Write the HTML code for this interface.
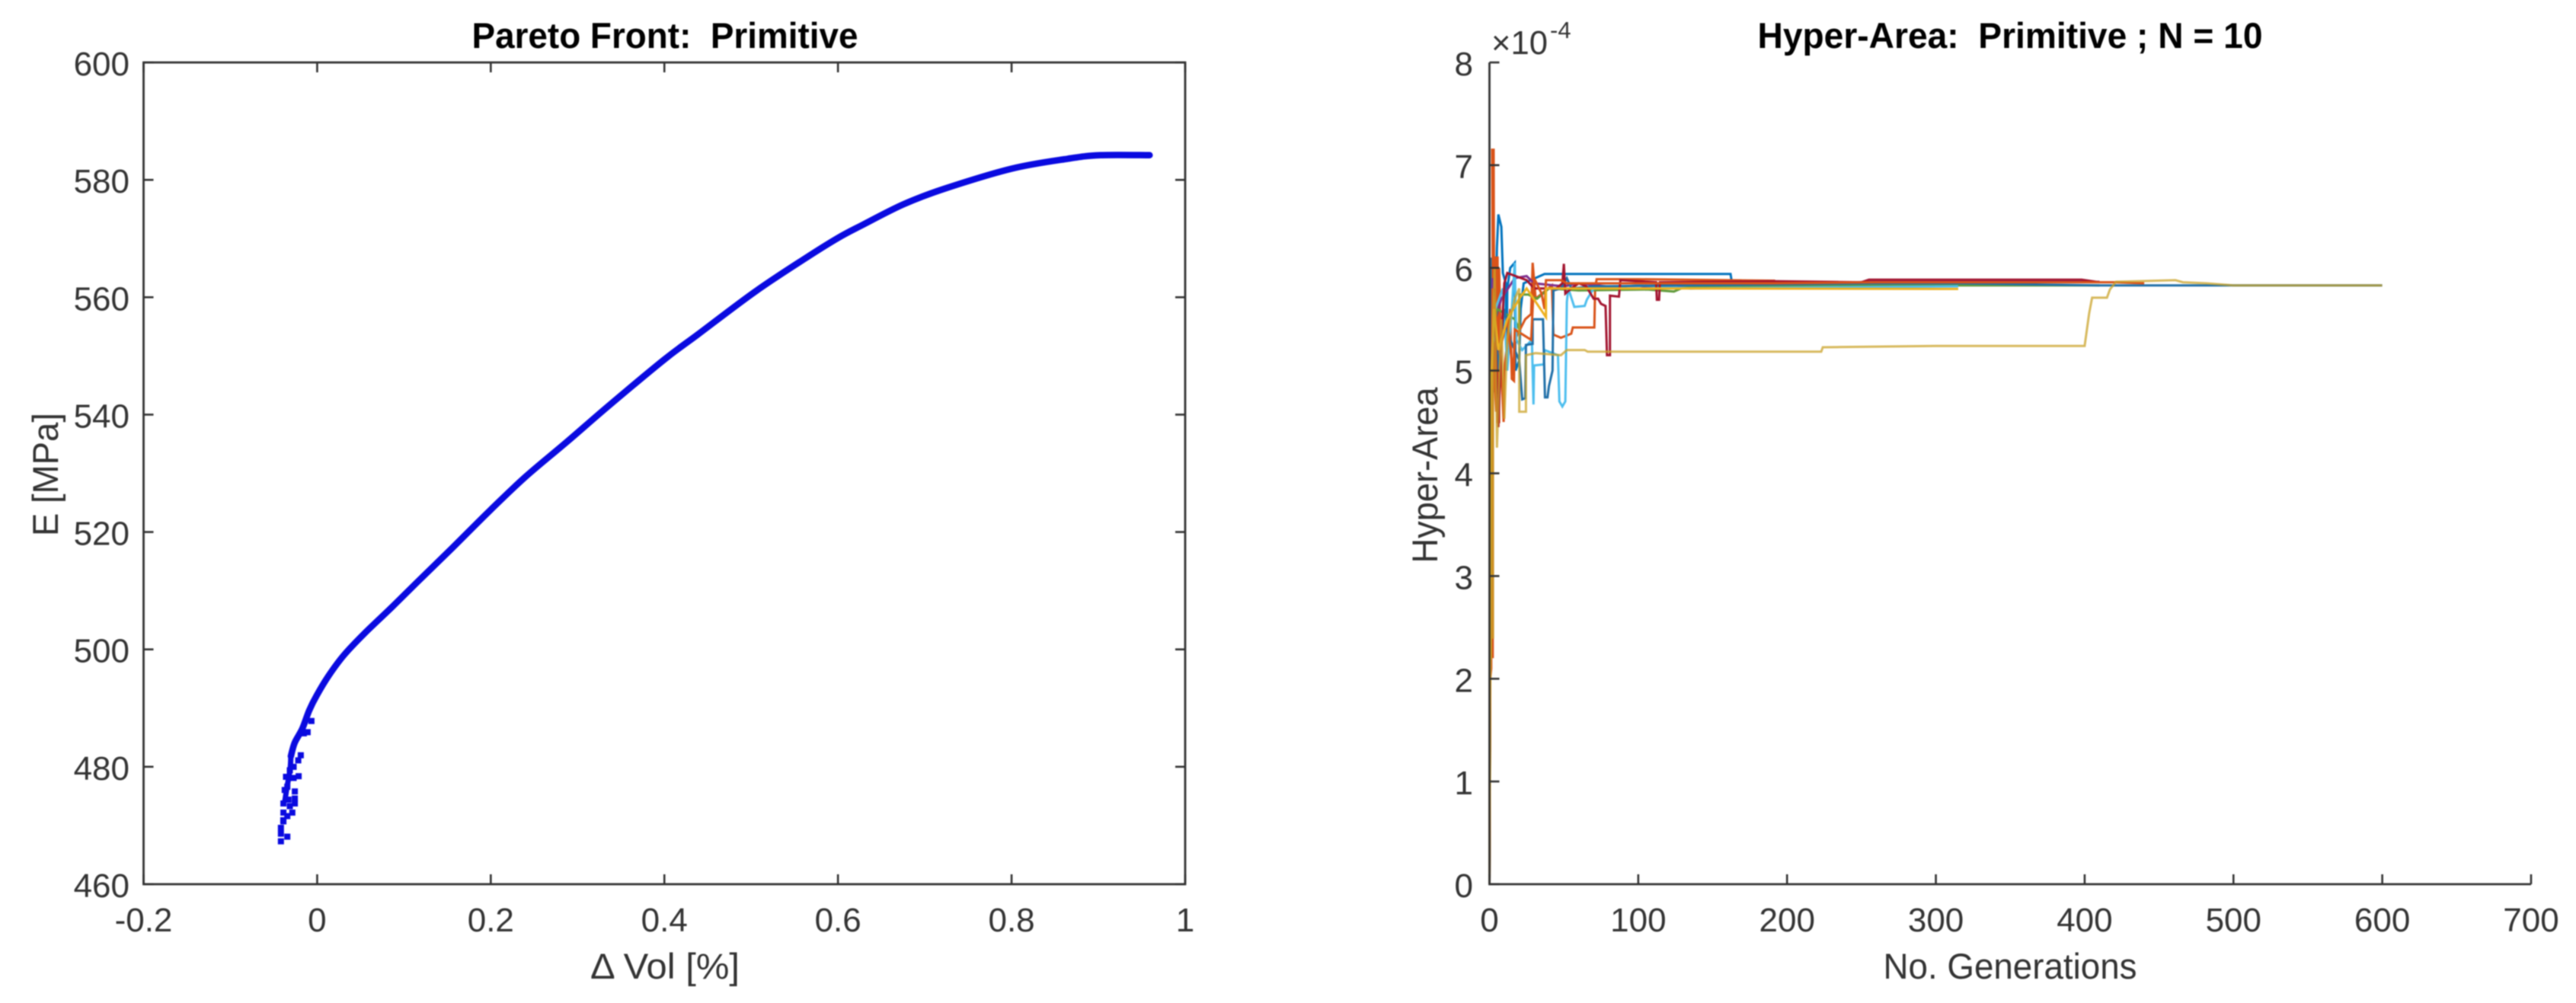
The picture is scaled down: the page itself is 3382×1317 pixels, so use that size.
<!DOCTYPE html>
<html lang="en">
<head>
<meta charset="utf-8">
<title>Pareto Front and Hyper-Area: Primitive</title>
<style>
html,body{margin:0;padding:0;background:#fff;}
body{width:3382px;height:1317px;overflow:hidden;}
svg{display:block;filter:blur(0.7px);}
text{font-family:"Liberation Sans",Arial,sans-serif;white-space:pre;}
.tick{font-size:44px;fill:#333;}
.label{font-size:47px;fill:#333;}
.title{font-size:47px;font-weight:bold;fill:#000;}
</style>
</head>
<body>
<svg id="chart" xmlns="http://www.w3.org/2000/svg" width="3382" height="1317" viewBox="0 0 3382 1317">
<rect x="0" y="0" width="3382" height="1317" fill="#fff"/>
<g id="pareto">
<text class="title" x="873" y="63" text-anchor="middle" textLength="507" lengthAdjust="spacingAndGlyphs">Pareto Front:  Primitive</text>
<text class="label" transform="translate(76,623) rotate(-90)" text-anchor="middle" textLength="162" lengthAdjust="spacingAndGlyphs">E [MPa]</text>
<text class="label" x="873" y="1285" text-anchor="middle" textLength="196" lengthAdjust="spacingAndGlyphs">Δ Vol [%]</text>
</g>
<g id="hyper">
<text class="title" x="2639" y="63" text-anchor="middle" textLength="663" lengthAdjust="spacingAndGlyphs">Hyper-Area:  Primitive ; N = 10</text>
<text class="label" transform="translate(1887,624) rotate(-90)" text-anchor="middle" textLength="231" lengthAdjust="spacingAndGlyphs">Hyper-Area</text>
<text class="label" x="2639" y="1285" text-anchor="middle" textLength="333" lengthAdjust="spacingAndGlyphs">No. Generations</text>
<text class="tick" x="1958" y="71" textLength="74" lengthAdjust="spacingAndGlyphs">×10</text>
<text class="tick" x="2035" y="50" style="font-size:31px">-4</text>
</g>
</svg>
<script>
// ---- Pareto front data ----
const paretoVol = [0.959,0.9025,0.865,0.8,0.723,0.675,0.628,0.6,0.562,0.505,0.439,0.4,0.335,0.288,0.24,0.2,0.155,0.117,0.0875,0.055,0.0312,0.0136,-0.0004,-0.0092,-0.0171,-0.0259,-0.0303];
const paretoE = [584.2,584.2,583.6,581.9,578.5,575.8,572.3,570.1,566.6,561,553.7,549.4,541.4,535.4,529.4,523.8,517.2,511.7,507.4,502.8,499.1,495.6,492.2,489.6,486.5,484.1,481.8];
const lowerVol = [-0.0303,-0.0312,-0.0347,-0.0374];
const lowerE = [481.8,479.6,476.6,474];
const scatterVol = [-0.0189,-0.0218,-0.0271,-0.0315,-0.0213,-0.0271,-0.0359,-0.0257,-0.0344,-0.0374,-0.0257,-0.0257,-0.033,-0.0389,-0.0315,-0.0286,-0.0344,-0.0389,-0.0389,-0.0418,-0.0344,-0.0418,-0.0418,-0.0391,-0.0066,-0.011,-0.0154];
const scatterE = [481.97,481.1,480,479.4,478.4,478.1,478.3,475.8,476.6,476.05,474.6,473.75,474.4,473.75,473.3,472.2,471.6,472.2,470.7,469.6,468.1,468.6,467.3,470.9,487.8,485.9,485.7];
const paretoXTicks = [-0.2,0,0.2,0.4,0.6,0.8,1];
const paretoYTicks = [460,480,500,520,540,560,580,600];

// ---- Hyper-area data (values in units of 1e-4) ----
const run1Gen = [0,0.6,1.5,1.5,2.5,2.5,3.5,3.5,5,6,8,9,11,11.5,12,14,17,17.5,20,21,23,37,162,163,200,315];
const run1Area = [0,5,6.1,4.8,4.8,6.1,6.1,5.0,6.2,6.52,6.4,5.95,5.85,5.0,5.8,6.0,6.05,5.0,5.1,5.6,5.85,5.94,5.94,5.85,5.84,5.84];
const run2Gen = [0,0.5,1.2,1.2,2.2,2.2,1.8,2.8,3.2,4.5,4.5,5.5,5.5,6.5,6.5,8,9.5,10,14,15,16.5,17,24,28,29,31,42,43,48,55,56,70.5,71,72,100,192];
const run2Area = [0,2,2.1,5,2.2,6,7.15,7.15,5,4.6,6.1,6.1,4.5,4.5,6,5,4.5,5,5.6,4.92,4.9,5.3,5.5,5.55,6.05,5.7,5.83,5.35,5.32,5.36,5.42,5.42,5.8,5.89,5.89,5.875];
const run4Gen = [0,1,2,4,8,17,25,30,50,60,98,120,135,255,410];
const run4Area = [0,5,5.9,5.5,5.7,5.9,5.92,5.85,5.82,5.85,5.79,5.85,5.8,5.865,5.865];
const run5Gen = [0,1.5,5,17,20,20,26,32,40,60,106,124,132,250,410];
const run5Area = [0,5.2,5.6,5.5,5.4,5.74,5.74,5.7,5.8,5.78,5.79,5.77,5.82,5.83,5.83];
const run6Gen = [0,1,4,9,12,15,17,18,22,28.5,29.6,30,36.5,37,46,47,49,51,52,53,57,64,65.4,70,100,135,315];
const run6Area = [0,5,5.6,5.8,5.0,5.6,6.05,5.3,5.2,5.3,4.67,5.05,5.06,5.2,5.15,4.7,4.65,4.7,5.67,5.8,5.62,5.63,5.69,5.8,5.83,5.8,5.82];
const run8Gen = [0,1,2.5,6,10,14,20,22,24,24.5,29,29,36,37.3,39,40,42.4,43,48,52,55,70,130,255,315,410,600];
const run8Area = [0,5.5,5.8,5.0,5.6,5.3,5.1,4.72,4.73,5.25,5.26,5.5,5.5,4.74,4.74,4.85,5.0,5.78,5.8,5.9,5.8,5.82,5.83,5.85,5.85,5.83,5.83];
const run7Gen = [0,1,3,6,8,10,12,25,30,45,49,50,51,55,60,65,70,73,75,78,79,81,81,87,88,112,112.5,114,114.5,192,250,255,398,410];
const run7Area = [0,4.4,5.8,4.45,5.3,5.85,5.95,5.88,5.8,5.8,5.85,6.04,5.75,5.8,5.85,5.82,5.7,5.7,5.65,5.63,5.15,5.15,5.73,5.72,5.88,5.86,5.69,5.69,5.86,5.87,5.86,5.885,5.885,5.86];
const run9Gen = [0,1,2,7,12,16,17,28,30,35,37,38,48,52,70,190,260,420,440];
const run9Area = [0,4,5.8,5.2,5.5,4.95,5.4,5.3,5.9,5.75,5.6,5.88,5.88,5.85,5.85,5.85,5.86,5.86,5.85];
const run10Gen = [0,1,3,6,12,20,25,38,38,60,130,315];
const run10Area = [0,4.8,5.6,5.2,5.5,5.7,5.8,5.52,5.8,5.8,5.8,5.795];
const run3Gen = [0,0.5,0.5,1,1,1.5,1.5,2.4,2.4,3.5,5,8,10,12,14,17,20,20,24.5,24.5,31,48,52,64,66,223,224,300,400,403,405,415,417,421,461,466,482,500,600];
const run3Area = [0,4.5,2.2,2.2,5,5,2.4,2.4,5.5,6,4.25,5.5,4.53,5.3,5.5,5.7,5.8,4.6,4.6,5.15,5.17,5.15,5.2,5.2,5.185,5.185,5.227,5.24,5.24,5.556,5.71,5.71,5.79,5.865,5.88,5.86,5.85,5.83,5.83];
const hyperXTicks = [0,100,200,300,400,500,600,700];
const hyperYTicks = [0,1,2,3,4,5,6,7,8];

const BLUE='#0072BD',ORANGE='#D95319',YELLOW='#EDB120',PURPLE='#7E2F8E',GREEN='#5f9a3c',LIGHT='#4DBEEE',RED='#A2142F';

const NS='http://www.w3.org/2000/svg';
const AXIS='#333';
const xP=v=>188.5+(v+0.2)/1.2*1367.5;
const yP=v=>1161-(v-460)/140*1079;
const xH=v=>1955.5+v/700*1367.5;
const yH=v=>1161-v/8*1079;

function make(parent,tag,attrs){
  const el=document.createElementNS(NS,tag);
  for(const k in attrs) el.setAttribute(k,attrs[k]);
  parent.appendChild(el);
  return el;
}
function pts(xs,ys,fx,fy){return xs.map((x,i)=>fx(x).toFixed(1)+','+fy(ys[i]).toFixed(1)).join(' ');}
function smooth(xs,ys,fx,fy){
  const p=xs.map((x,i)=>[fx(x),fy(ys[i])]);
  let d='M'+p[0][0].toFixed(1)+' '+p[0][1].toFixed(1);
  for(let i=0;i<p.length-1;i++){
    const a=p[Math.max(i-1,0)],b=p[i],c=p[i+1],e=p[Math.min(i+2,p.length-1)];
    d+=' C'+(b[0]+(c[0]-a[0])/6).toFixed(1)+' '+(b[1]+(c[1]-a[1])/6).toFixed(1)+' '+(c[0]-(e[0]-b[0])/6).toFixed(1)+' '+(c[1]-(e[1]-b[1])/6).toFixed(1)+' '+c[0].toFixed(1)+' '+c[1].toFixed(1);
  }
  return d;
}

const pareto=document.getElementById('pareto');
const hyper=document.getElementById('hyper');

// Pareto series
const frontLine=make(pareto,'path',{d:smooth(paretoVol,paretoE,xP,yP),fill:'none',stroke:'#0a0ae0','stroke-width':8.5,'stroke-linecap':'round'});


const lowerLine=make(pareto,'path',{d:smooth(lowerVol,lowerE,xP,yP),fill:'none',stroke:'#0a0ae0','stroke-width':7});


scatterVol.forEach((v,i)=>{
  const m=make(pareto,'rect',{x:(xP(v)-4).toFixed(1),y:(yP(scatterE[i])-4).toFixed(1),width:8,height:8,fill:'#0a0ae0'});
  
  
});

// Pareto axes
const boxP=make(pareto,'rect',{x:188.5,y:82,width:1367.5,height:1079,fill:'none',stroke:AXIS,'stroke-width':2.8});


paretoXTicks.forEach(t=>{
  const x=xP(t);
  const a=make(pareto,'path',{d:`M${x} 1161V1148M${x} 82V95`,stroke:AXIS,'stroke-width':2.6,fill:'none'});
  
  
  const l=make(pareto,'text',{x:x,y:1223,'text-anchor':'middle',class:'tick'});
  
  
  l.textContent=String(t);
});
paretoYTicks.forEach(t=>{
  const y=yP(t);
  const a=make(pareto,'path',{d:`M188.5 ${y}H201.5M1556 ${y}H1543`,stroke:AXIS,'stroke-width':2.6,fill:'none'});
  
  
  const l=make(pareto,'text',{x:170,y:y+17,'text-anchor':'end',class:'tick'});
  
  
  l.textContent=String(t);
});

// Hyper-area series
const runs=[
 [run1Gen,run1Area,BLUE,1],[run2Gen,run2Area,ORANGE,1],[run4Gen,run4Area,PURPLE,1],[run5Gen,run5Area,GREEN,1],
 [run6Gen,run6Area,LIGHT,1],[run8Gen,run8Area,'#1f6fa8',1],[run7Gen,run7Area,RED,1],[run9Gen,run9Area,ORANGE,1],
 [run10Gen,run10Area,YELLOW,1],[run3Gen,run3Area,'#c9a227',0.75]
];
runs.forEach((r,i)=>{
  const line=make(hyper,'polyline',{points:pts(r[0],r[1],xH,yH),fill:'none',stroke:r[2],'stroke-opacity':r[3],'stroke-width':3,'stroke-linejoin':'miter'});
  
  
});

// Hyper-area axes
const axH=make(hyper,'path',{d:'M1955.5 82V1161H3323',fill:'none',stroke:AXIS,'stroke-width':2.8});


hyperXTicks.forEach(t=>{
  const x=xH(t);
  const a=make(hyper,'path',{d:`M${x} 1161V1148`,stroke:AXIS,'stroke-width':2.6,fill:'none'});
  
  
  const l=make(hyper,'text',{x:x,y:1223,'text-anchor':'middle',class:'tick'});
  
  
  l.textContent=String(t);
});
hyperYTicks.forEach(t=>{
  const y=yH(t);
  const a=make(hyper,'path',{d:`M1955.5 ${y}H1968.5`,stroke:AXIS,'stroke-width':2.6,fill:'none'});
  
  
  const l=make(hyper,'text',{x:1934,y:y+17,'text-anchor':'end',class:'tick'});
  
  
  l.textContent=String(t);
});
</script>
</body>
</html>
